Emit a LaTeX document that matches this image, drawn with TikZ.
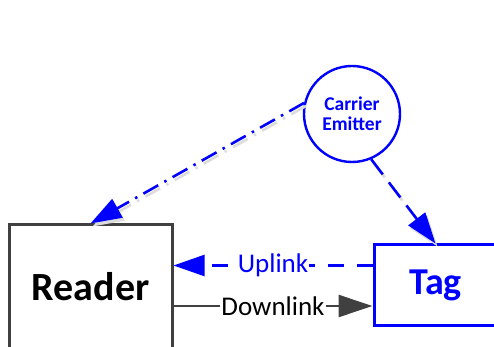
\documentclass[tikz,border=0pt]{standalone}
\usepackage{fontspec}
\setmainfont{Carlito}
\usetikzlibrary{arrows.meta}
\definecolor{lblue}{RGB}{0,0,255}
\definecolor{dgray}{RGB}{64,64,64}
\definecolor{shad}{RGB}{220,220,220}
\begin{document}
\begin{tikzpicture}[x=1pt,y=1pt,
  boxr/.style={draw=dgray,line width=3pt,minimum width=163pt,minimum height=124pt,inner sep=0pt,font=\fontsize{40}{44}\selectfont\bfseries},
  boxt/.style={draw=lblue,text=lblue,line width=3pt,minimum width=123pt,minimum height=81pt,inner sep=0pt,font=\fontsize{38}{42}\selectfont\bfseries},
  circ/.style={circle,draw=lblue,text=lblue,line width=2.4pt,minimum size=96pt,inner sep=0pt,align=center,font=\fontsize{19.5}{23}\selectfont\bfseries},
  lbl/.style={fill=white,inner sep=1pt,font=\fontsize{27}{30}\selectfont},
  bigtip/.style={-{Triangle[length=31pt,width=21pt]}},
  dashdot/.style={dash pattern=on 17pt off 7pt on 2.5pt off 7pt},
  longdash/.style={dash pattern=on 19pt off 10pt},
  updash/.style={dash pattern=on 16pt off 13pt}]
\useasboundingbox (0,0) rectangle (494,347);
\node[boxr] (reader) at (90.5,60) {Reader};
\node[boxt] (tag) at (435.5,61.5) {Tag};
\node[circ] (ce) at (352,233) {Carrier\\[-3pt]Emitter};
% shadows
\begin{scope}[transform canvas={shift={(2pt,-3pt)}}]
\draw[shad,line width=2.6pt,dashdot,bigtip] (ce.167) -- (reader.north);
\draw[shad,line width=2.6pt,longdash,bigtip] (ce.-67) -- (tag.north);
\end{scope}
% connectors
\draw[lblue,line width=2.6pt,dashdot,bigtip] (ce.167) -- (reader.north);
\draw[lblue,line width=2.6pt,longdash,bigtip] (ce.-67) -- (tag.north);
\coordinate (upS) at ([yshift=20pt]tag.west);
\coordinate (dnS) at ([yshift=-19pt]reader.east);
\draw[lblue,line width=2.5pt,updash,bigtip] (upS) -- (reader.east |- upS)
  node[lbl,text=lblue,pos=0.5] (up) {Uplink};
\draw[dgray,line width=2.5pt,-{Triangle[length=34pt,width=22pt]}] (dnS) -- (tag.west |- dnS)
  node[lbl,text=black,pos=0.5] (dn) {Downlink};
\end{tikzpicture}
\end{document}
